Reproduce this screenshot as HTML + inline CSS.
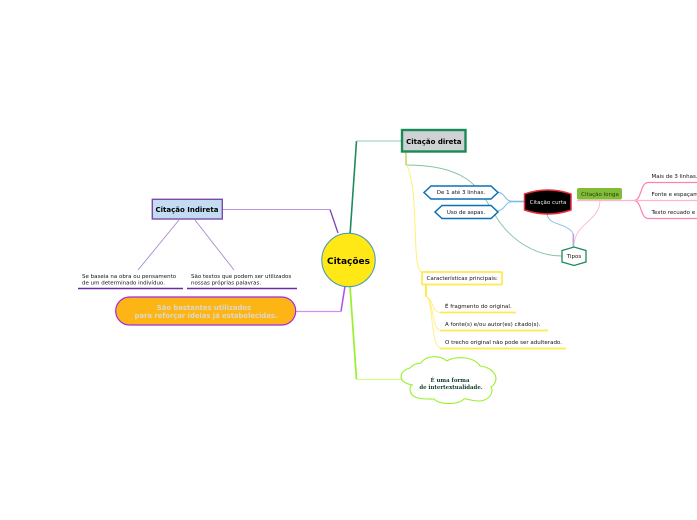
<!DOCTYPE html>
<html><head><meta charset="utf-8"><style>
html,body{margin:0;padding:0;background:#fff}
svg{display:block}
text{font-family:"DejaVu Sans",sans-serif;font-size:5.500px;fill:#111}
.b{font-weight:bold;fill:#000}
</style></head><body>
<svg width="697" height="520" viewBox="0 0 697 520" fill="none" xmlns="http://www.w3.org/2000/svg">
<!-- main connectors -->
<path d="M338 233L330 209.500" stroke="#7b45ad" stroke-width="1.300"/>
<path d="M330 209.500H222" stroke="#b794dc" stroke-width="1.100"/>
<path d="M350 235L356.500 141" stroke="#1f8a5b" stroke-width="1.600"/>
<path d="M356.500 141H402" stroke="#a8d8bd" stroke-width="1.200"/>
<path d="M345 286L341 311.500" stroke="#b44bf0" stroke-width="1.500"/>
<path d="M341 311.500H296" stroke="#cf90f2" stroke-width="1.200"/>
<path d="M350 286L356.500 379.500" stroke="#98f02a" stroke-width="1.700"/>
<path d="M356.500 379.500H402" stroke="#d2ff8c" stroke-width="1.300"/>
<!-- indireta children -->
<path d="M179 220L138 270M195 220L234 270" stroke="#a98ace" stroke-width=".9"/>
<path d="M78 288.500H183M187 288.500H297" stroke="#6a2ca0" stroke-width="1.400"/>
<!-- direta children -->
<path d="M406 152V165" stroke="#cfe28a" stroke-width="2"/>
<path d="M406 165C470 165 480 190 495 215C510 240 535 256 562 256" stroke="#86c29e" stroke-width=".9"/>
<path d="M407 165C415 185 414 210 416 250C417 265 418 271 423 273" stroke="#fff070" stroke-width="1"/>
<path d="M498 192C506 194 505 201 512 201.500M498 211C506 209 505 202 512 201.500" stroke="#7dbce6" stroke-width="1"/>
<path d="M510 201.500H525" stroke="#7dbce6" stroke-width="1.600"/>
<path d="M547 214C549 226 565 222 573 233V248" stroke="#88bde6" stroke-width=".9"/>
<path d="M600 200C600 222 574 222 573.500 248" stroke="#ffb4d2" stroke-width=".9"/>
<path d="M573.500 234V248" stroke="#b4a8d6" stroke-width="1.300"/>
<path d="M577 200.500H634" stroke="#ffb4d2" stroke-width="1.200"/>
<path d="M634 200.500C642 200 640 183 648 182.500H697M634 200.500C642 201 640 218 648 218.500H697" stroke="#ff80b4" stroke-width="1.200"/>
<path d="M634 200.500H697" stroke="#ffb4d2" stroke-width="1.200"/>
<!-- características -->
<path d="M426 285V297" stroke="#ffe94f" stroke-width="2"/>
<path d="M427 297C433 299 432 312 440 312.500M427 297C433 300 432 329 440 330M427 297C433 302 431 346 440 348" stroke="#fff08a" stroke-width="1"/>
<path d="M440 312.500H516M440 330.500H548M440 348.500H566" stroke="#ffe94f" stroke-width="1.700"/>

<!-- center -->
<circle cx="348.500" cy="260" r="26.700" fill="#ffe815" stroke="#3d97b8" stroke-width="1"/>
<text x="348.500" y="264" text-anchor="middle" class="b" style="font-size:9px">Citações</text>

<!-- indireta -->
<rect x="152.300" y="199.300" width="70" height="19.700" fill="#c3dcf2" stroke="#7b4aa8" stroke-width="1.400"/>
<text x="187" y="212" text-anchor="middle" class="b" style="font-size:7px">Citação Indireta</text>
<text x="82" y="278">Se baseia na obra ou pensamento</text>
<text x="82" y="284.500">de um determinado indivíduo.</text>
<text x="191" y="278">São textos que podem ser utilizados</text>
<text x="191" y="284.500">nossas próprias palavras.</text>

<!-- orange -->
<rect x="115.700" y="297" width="180" height="28" rx="14" fill="#fdb515" stroke="#a628e0" stroke-width="1.200"/>
<text x="204" y="310" text-anchor="middle" style="font-size:6.800px;font-weight:bold;fill:#dcd8c8">São bastantes utilizados</text>
<text x="206" y="318" text-anchor="middle" style="font-size:6.800px;font-weight:bold;fill:#dcd8c8">para reforçar ideias já estabelecidas.</text>

<!-- direta -->
<rect x="402" y="130" width="63.500" height="21.500" fill="#cfd2d3" stroke="#1b8a58" stroke-width="2.400"/>
<text x="433.800" y="144" text-anchor="middle" class="b" style="font-size:7px">Citação direta</text>

<!-- hexes -->
<path d="M431 186H491L498 192.500L491 199H431L424 192.500Z" fill="#fff" stroke="#0b71b5" stroke-width="1.500"/>
<text x="461" y="194" text-anchor="middle">De 1 até 3 linhas.</text>
<path d="M442 205.500H491L498 212L491 218.500H442L435 212Z" fill="#fff" stroke="#0b71b5" stroke-width="1.500"/>
<text x="466" y="214" text-anchor="middle">Uso de aspas.</text>

<!-- curta -->
<path d="M524.500 194Q548 186 571 194V210Q548 218 524.500 210Z" fill="#000" stroke="#f02a3a" stroke-width="1.500"/>
<text x="548" y="204" text-anchor="middle" style="fill:#eee">Citação curta</text>

<!-- longa -->
<rect x="577" y="188" width="45" height="11.500" rx="2" fill="#82bb35"/>
<text x="600" y="196" text-anchor="middle" style="fill:#1d3a10">Citação longa</text>
<text x="651.500" y="178">Mais de 3 linhas.</text>
<text x="651.500" y="196">Fonte e espaçamento</text>
<text x="651.500" y="214">Texto recuado e</text>

<!-- tipos -->
<path d="M562 250.500L574 247L586 250.500V262L574 265.500L562 262Z" fill="#fff" stroke="#1b8a58" stroke-width="1.300"/>
<text x="574" y="258" text-anchor="middle">Tipos</text>

<!-- características -->
<rect x="422" y="272" width="80" height="12.500" rx="1" fill="#fff" stroke="#ffe94f" stroke-width="1.700"/>
<text x="426.500" y="280">Características principais:</text>
<text x="445" y="308">É fragmento do original.</text>
<text x="445" y="326">A fonte(s) e/ou autor(es) citado(s).</text>
<text x="445" y="344">O trecho original não pode ser adulterado.</text>

<!-- cloud -->
<path d="M410 368C414 363 418 364 421 363C426 355 440 355 447 361C454 356 474 356 480 366C488 367 495 371 496 378C496 383 493 386 491 387C494 392 490 400 480 401C470 401 466 398 464 399C458 405 440 405 434 399C425 399 410 400 410 389C410 386 412 385 413 385C405 384 401 381 401 376C402 371 406 369 410 368Z" fill="#fff" stroke="#98f02a" stroke-width="1.100"/>
<text x="450" y="382" text-anchor="middle" style="font-family:'DejaVu Serif','Liberation Serif',serif;font-size:5.400px;font-weight:bold;fill:#0d3b2a">É uma forma</text>
<text x="451" y="389" text-anchor="middle" style="font-family:'DejaVu Serif','Liberation Serif',serif;font-size:5.400px;font-weight:bold;fill:#0d3b2a">de intertextualidade.</text>
</svg>
</body></html>
